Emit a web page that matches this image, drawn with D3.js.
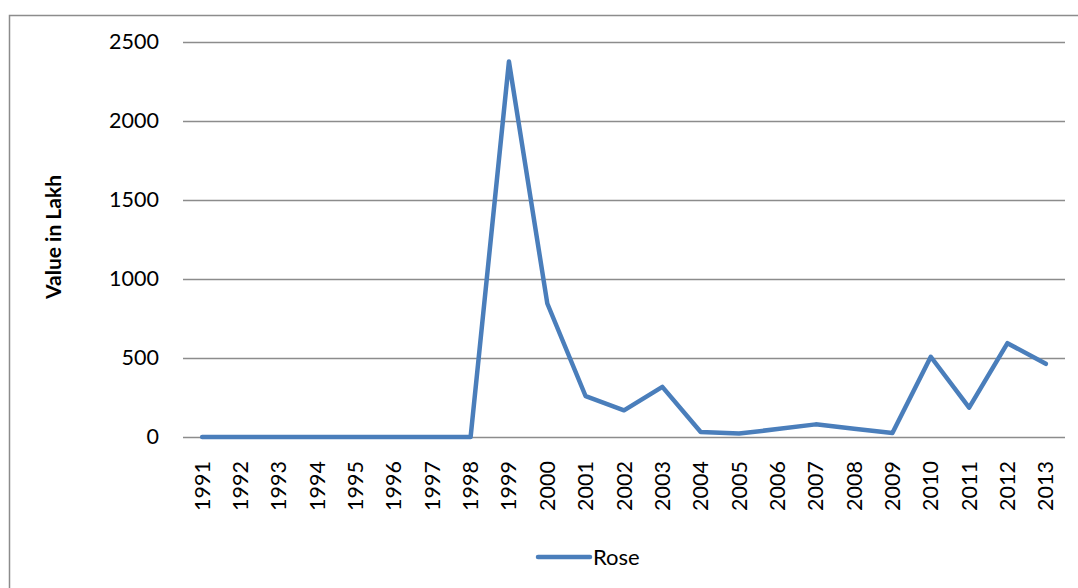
<!DOCTYPE html>
<html>
<head>
<meta charset="utf-8">
<script src="https://cdn.jsdelivr.net/npm/d3@7"></script>
<style>
  body { margin: 0; background: #fff; }
  svg { display: block; font-family: Lato, "Open Sans", sans-serif; }
</style>
</head>
<body>
<div id="chart"></div>
<script>
// chart data
const years = ['1991', '1992', '1993', '1994', '1995', '1996', '1997', '1998', '1999', '2000',
  '2001', '2002', '2003', '2004', '2005', '2006', '2007', '2008', '2009', '2010', '2011', '2012', '2013'];
const rose = [0, 0, 0, 0, 0, 0, 0, 0, 2376, 845,
  258, 169, 317, 32, 22, 50, 80, 52, 26, 508, 186, 594, 463];
const yTicks = [0, 500, 1000, 1500, 2000, 2500];
const seriesName = 'Rose';

const width = 1078;
const height = 588;
const margin = { top: 42, right: 13, bottom: 151, left: 183 };

const svg = d3.select('#chart')
  .append('svg')
  .attr('width', width)
  .attr('height', height);

// outer frame of the chart
svg.append('rect')
  .attr('x', 9.5)
  .attr('y', 15.5)
  .attr('width', 1100)
  .attr('height', 620)
  .attr('fill', 'none')
  .attr('stroke', '#8c8c8c')
  .attr('stroke-width', 1.5);

const xScale = d3.scaleBand()
  .domain(years)
  .range([margin.left, width - margin.right]);

const yScale = d3.scaleLinear()
  .domain([0, 2500])
  .range([height - margin.bottom, margin.top]);

// gridlines
svg.append('g')
  .attr('class', 'gridlines')
  .attr('transform', `translate(${margin.left}, 0)`)
  .call(d3.axisLeft(yScale).tickValues(yTicks).tickFormat('')
    .tickSize(-(width - margin.left - margin.right)))
  .call(g => g.select('.domain').remove())
  .call(g => g.selectAll('line').attr('stroke', '#8c8c8c').attr('stroke-width', 1.5));

// y axis labels
svg.append('g')
  .attr('transform', `translate(${margin.left}, 0)`)
  .call(d3.axisLeft(yScale).tickValues(yTicks).tickFormat(d3.format('d')).tickSize(0).tickPadding(24))
  .call(g => g.select('.domain').remove())
  .call(g => g.selectAll('text')
    .attr('font-family', 'Lato, sans-serif')
    .attr('font-size', 21.5)
    .attr('fill', '#000'));

// x axis labels
svg.append('g')
  .attr('transform', `translate(0, ${yScale(0)})`)
  .call(d3.axisBottom(xScale).tickSize(0))
  .call(g => g.select('.domain').remove())
  .call(g => g.selectAll('text')
    .attr('font-family', 'Lato, sans-serif')
    .attr('font-size', 21.5)
    .attr('fill', '#000')
    .attr('text-anchor', 'end')
    .attr('dy', '0.35em')
    .attr('transform', 'translate(0, 24) rotate(-90)')
    .attr('x', 0)
    .attr('y', 0));

// the line
const line = d3.line()
  .x((d, i) => xScale(years[i]) + xScale.bandwidth() / 2)
  .y(d => yScale(d));

svg.append('path')
  .datum(rose)
  .attr('d', line)
  .attr('fill', 'none')
  .attr('stroke', '#4a7ebb')
  .attr('stroke-width', 4.5)
  .attr('stroke-linejoin', 'round')
  .attr('stroke-linecap', 'round');

// y axis title
svg.append('text')
  .attr('transform', 'translate(61, 237) rotate(-90)')
  .attr('text-anchor', 'middle')
  .attr('font-family', 'Lato, sans-serif')
  .attr('font-weight', 'bold')
  .attr('font-size', 21)
  .text('Value in Lakh');

// legend
const legend = svg.append('g').attr('transform', 'translate(538, 557)');
legend.append('line')
  .attr('x1', 0)
  .attr('x2', 52)
  .attr('stroke', '#4a7ebb')
  .attr('stroke-width', 4.5)
  .attr('stroke-linecap', 'round');
legend.append('text')
  .attr('x', 55)
  .attr('dy', '0.35em')
  .attr('font-family', 'Lato, sans-serif')
  .attr('font-size', 22)
  .text(seriesName);
</script>
</body>
</html>
